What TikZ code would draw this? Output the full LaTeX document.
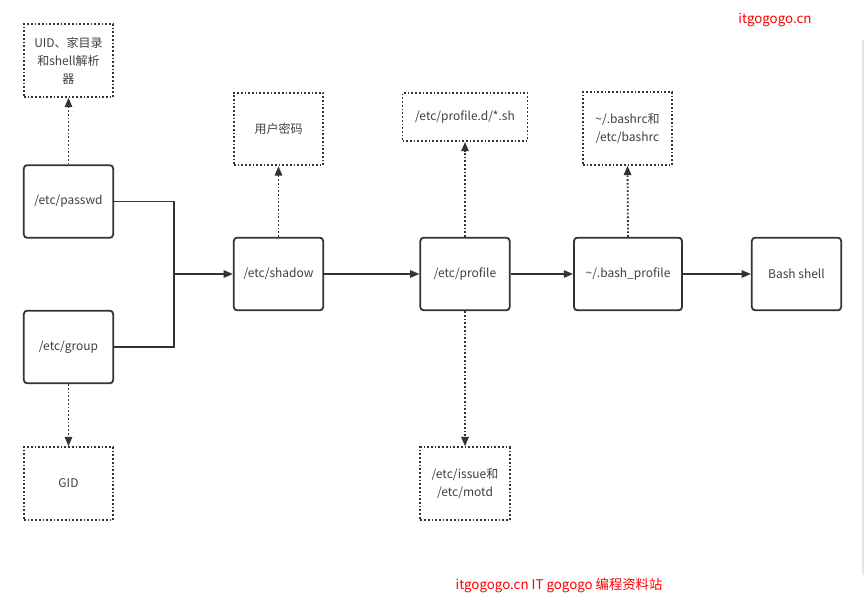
\documentclass[tikz,border=0pt]{standalone}
\usepackage{fontspec}
\setmainfont{Noto Sans CJK SC}
\usetikzlibrary{arrows.meta}
\definecolor{ink}{HTML}{333333}
\definecolor{txt}{HTML}{404040}
\begin{document}
\begin{tikzpicture}[x=0.75pt,y=-0.75pt,
  base/.style={font=\fontsize{9}{13.5}\selectfont, text=txt, align=center, inner sep=0pt, line width=1.35pt, draw=ink},
  solidbox/.style={base, rounded corners=2.5pt, minimum width=67pt, minimum height=54.5pt},
  dotbox/.style={base, dash pattern=on 1.3pt off 1.5pt, minimum width=67pt, minimum height=54.5pt},
  flow/.style={draw=ink, line width=1.35pt, -{Triangle[length=7pt,width=5.5pt]}},
  dotflow/.style={draw=ink, line width=1.35pt, dash pattern=on 1.3pt off 1.5pt, -{Triangle[length=7pt,width=5.5pt,sep=0pt]}},
  plain/.style={draw=ink, line width=1.35pt},
  wmark/.style={font=\fontsize{10}{12}\selectfont, text=red, inner sep=0pt}]
\useasboundingbox (0,0) rectangle (865,600);
\fill[white] (0,0) rectangle (865,600);
\draw[black!10, line width=1.5pt] (862.5,40) -- (862.5,575);

\node[dotbox] (uid) at (68.5,60.5) {UID、家目录\\和shell解析\\器};
\node[solidbox] (passwd) at (68.5,201.5) {/etc/passwd};
\node[solidbox] (group) at (68.5,347) {/etc/group};
\node[dotbox] (gid) at (68.5,483.5) {GID};
\node[dotbox] (pw) at (278.5,129) {用户密码};
\node[solidbox] (shadow) at (278.5,274) {/etc/shadow};
\node[dotbox, minimum width=93.75pt, minimum height=36pt] (profd) at (465,117) {/etc/profile.d/*.sh};
\node[solidbox] (profile) at (465,274) {/etc/profile};
\node[dotbox] (issue) at (465,483.5) {/etc/issue和\\/etc/motd};
\node[dotbox] (bashrc) at (627.5,128.5) {\~{}/.bashrc和\\/etc/bashrc};
\node[solidbox, minimum width=81pt] (bprof) at (628,274) {\~{}/.bash\_profile};
\node[solidbox] (bash) at (796.5,274) {Bash shell};

\coordinate (jm) at (174,274);
\draw[plain] (passwd.east) -| (jm);
\draw[plain] (group.east) -| (jm);
\draw[flow] (jm) -- (shadow.west);
\draw[flow] (shadow.east) -- (profile.west);
\draw[flow] (profile.east) -- (bprof.west);
\draw[flow] (bprof.east) -- (bash.west);

\draw[dotflow] (passwd.north) -- (uid.south);
\draw[dotflow] (group.south) -- (gid.north);
\draw[dotflow] (shadow.north) -- (pw.south);
\draw[dotflow] (profile.north) -- (profd.south);
\draw[dotflow] (profile.south) -- (issue.north);
\draw[dotflow] (bprof.north) -- (bashrc.south);

\node[wmark] (wm1) at (775,20) {itgogogo.cn};
\node[wmark] (wm2) at (559,586) {itgogogo.cn IT gogogo 编程资料站};
\end{tikzpicture}
\end{document}
